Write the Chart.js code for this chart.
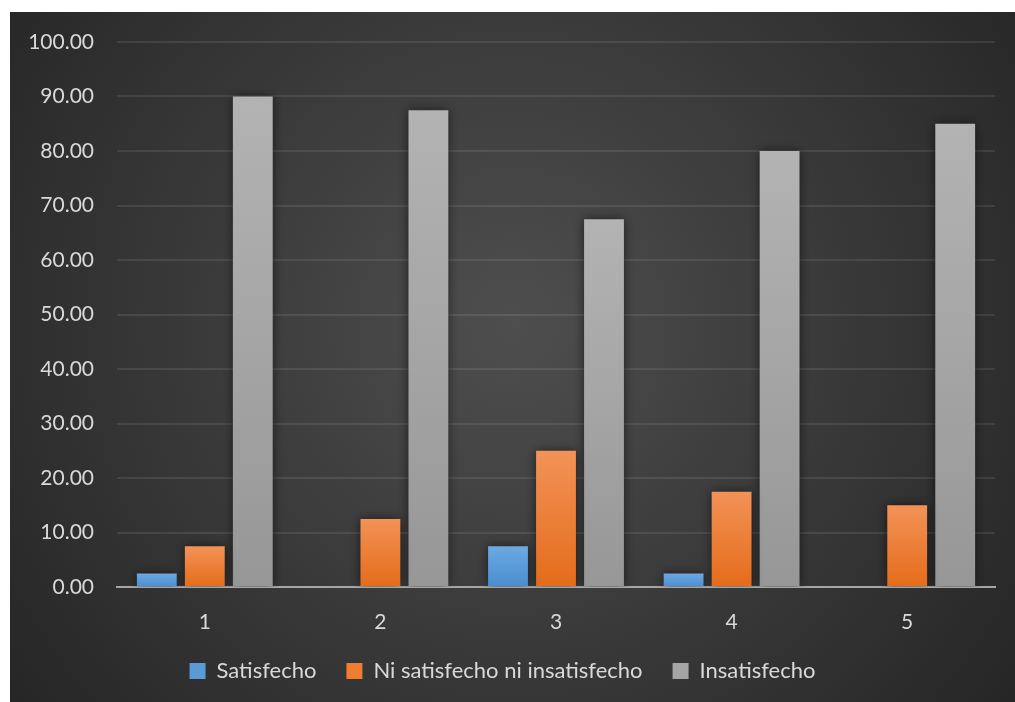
<!DOCTYPE html>
<html>
<head>
<meta charset="utf-8">
<script src="https://cdn.jsdelivr.net/npm/chart.js@4/dist/chart.umd.min.js"></script>
<style>
  html, body { margin: 0; padding: 0; background: #fff; }
  #wrap { position: absolute; left: 10px; top: 12px; width: 1005px; height: 690px; }
</style>
</head>
<body>
<div id="wrap"><canvas id="chart"></canvas></div>
<script>
const categories = ['1', '2', '3', '4', '5'];
const satisfecho = [2.5, 0, 7.5, 2.5, 0];
const niNi = [7.5, 12.5, 25, 17.5, 15];
const insatisfecho = [90, 87.5, 67.5, 80, 85];
const yTicks = [0, 10, 20, 30, 40, 50, 60, 70, 80, 90, 100];

const textColor = '#d9d9d9';
const fontFamily = 'Lato, "Open Sans", sans-serif';

// vertical gradient per bar, lighter on top like the Office style
function barGradient(top, bottom) {
  return function (context) {
    const chart = context.chart;
    const y = chart.scales.y;
    if (!y || context.parsed == null) return bottom;
    const yTop = y.getPixelForValue(context.parsed.y);
    const yBase = y.getPixelForValue(0);
    if (!isFinite(yTop) || yTop === yBase) return bottom;
    const g = chart.ctx.createLinearGradient(0, yTop, 0, yBase);
    g.addColorStop(0, top);
    g.addColorStop(1, bottom);
    return g;
  };
}

const background = {
  id: 'background',
  beforeDraw(chart) {
    const { ctx, width, height } = chart;
    const g = ctx.createRadialGradient(width * 0.5, height * 0.45, 0, width * 0.5, height * 0.45, width * 0.62);
    g.addColorStop(0, '#4e4e4e');
    g.addColorStop(1, '#262626');
    ctx.save();
    ctx.fillStyle = g;
    ctx.fillRect(0, 0, width, height);
    ctx.restore();
  }
};

const barShadow = {
  id: 'barShadow',
  beforeDatasetsDraw(chart) {
    const ctx = chart.ctx;
    ctx.save();
    ctx.shadowColor = 'rgba(0,0,0,0.55)';
    ctx.shadowBlur = 10;
    ctx.shadowOffsetX = 0;
    ctx.shadowOffsetY = 0;
  },
  afterDatasetsDraw(chart) {
    chart.ctx.restore();
  }
};

new Chart(document.getElementById('chart').getContext('2d'), {
  type: 'bar',
  data: {
    labels: categories,
    datasets: [
      {
        label: 'Satisfecho',
        data: satisfecho,
        backgroundColor: barGradient('#6ca9e3', '#4a8dd0'),
        borderWidth: 0
      },
      {
        label: 'Ni satisfecho ni insatisfecho',
        data: niNi,
        backgroundColor: barGradient('#f39257', '#e46c1a'),
        borderWidth: 0
      },
      {
        label: 'Insatisfecho',
        data: insatisfecho,
        backgroundColor: barGradient('#b3b3b3', '#979797'),
        borderWidth: 0
      }
    ]
  },
  options: {
    responsive: true,
    maintainAspectRatio: false,
    animation: false,
    categoryPercentage: 0.82,
    barPercentage: 0.83,
    layout: { padding: { top: 30, right: 20, left: 0, bottom: 10 } },
    scales: {
      x: {
        grid: { display: false, drawTicks: false },
        border: { color: '#a6a6a6', width: 2 },
        ticks: { color: textColor, font: { family: fontFamily, size: 21 }, padding: 23 },
        afterFit(scale) { scale.height = 43; }
      },
      y: {
        min: 0,
        max: 100,
        afterBuildTicks(scale) { scale.ticks = yTicks.map(v => ({ value: v })); },
        grid: { color: 'rgba(255,255,255,0.09)', lineWidth: 2, drawTicks: false },
        border: { display: false },
        ticks: {
          color: textColor,
          font: { family: fontFamily, size: 21 },
          padding: 23,
          callback: v => Number(v).toFixed(2)
        },
        afterFit(scale) {
          scale.width = 107;
          scale.paddingTop = 0;
          scale.paddingBottom = 0;
        }
      }
    },
    plugins: {
      legend: {
        position: 'bottom',
        labels: {
          color: textColor,
          font: { family: fontFamily, size: 22 },
          boxWidth: 16,
          boxHeight: 16,
          padding: 30,
          generateLabels(chart) {
            const tops = ['#5b9bd5', '#ed7d31', '#a5a5a5'];
            return chart.data.datasets.map((ds, i) => ({
              text: ds.label,
              fillStyle: tops[i],
              strokeStyle: tops[i],
              lineWidth: 0,
              fontColor: textColor,
              datasetIndex: i,
              hidden: false
            }));
          }
        }
      },
      tooltip: { enabled: false }
    }
  },
  plugins: [background, barShadow]
});
</script>
</body>
</html>
